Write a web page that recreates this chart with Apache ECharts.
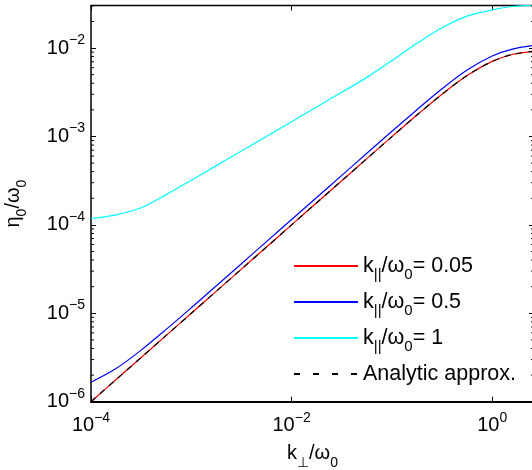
<!DOCTYPE html>
<html><head><meta charset="utf-8">
<script src="https://cdn.jsdelivr.net/npm/echarts@6/dist/echarts.min.js"></script>
<style>html,body{margin:0;padding:0;background:#fff}#c{width:532px;height:470px}</style>
</head><body><div id="c"></div>
<script>
// k_perp / omega_0 sample points
const kPerp = [1e-4, 1.778e-4, 3.162e-4, 5.623e-4, 1e-3, 1.778e-3, 3.162e-3, 5.623e-3,
  1e-2, 1.778e-2, 3.162e-2, 5.623e-2, 0.1, 0.1778, 0.3162, 0.5623, 1, 1.585, 2.57];
// eta_0 / omega_0 for k_par/omega_0 = 0.05
const eta005 = [1.0e-6, 1.78e-6, 3.16e-6, 5.62e-6, 1.0e-5, 1.78e-5, 3.16e-5, 5.62e-5,
  1.0e-4, 1.78e-4, 3.16e-4, 5.61e-4, 9.95e-4, 1.75e-3, 3.01e-3, 4.90e-3, 7.07e-3, 8.46e-3, 9.2e-3];
// k_par/omega_0 = 0.5
const eta05 = [1.66e-6, 2.37e-6, 3.83e-6, 6.58e-6, 1.156e-5, 2.05e-5, 3.64e-5, 6.47e-5,
  1.15e-4, 2.04e-4, 3.63e-4, 6.45e-4, 1.144e-3, 2.01e-3, 3.46e-3, 5.64e-3, 8.13e-3, 9.73e-3, 1.07e-2];
// k_par/omega_0 = 1
const eta1 = [1.18e-4, 1.30e-4, 1.56e-4, 2.20e-4, 3.20e-4, 4.68e-4, 6.86e-4, 1.00e-3,
  1.47e-3, 2.16e-3, 3.16e-3, 4.66e-3, 7.2e-3, 1.13e-2, 1.70e-2, 2.30e-2, 2.70e-2, 2.95e-2, 3.05e-2];
// analytic approximation
const etaAnalytic = [1.0e-6, 1.78e-6, 3.16e-6, 5.62e-6, 1.0e-5, 1.78e-5, 3.16e-5, 5.62e-5,
  1.0e-4, 1.78e-4, 3.16e-4, 5.61e-4, 9.95e-4, 1.75e-3, 3.01e-3, 4.90e-3, 7.07e-3, 8.46e-3, 9.2e-3];

const xTickExps = [-4, -2, 0];
const yTickExps = [-6, -5, -4, -3, -2];
const seriesNames = ['k005', 'k05', 'k1', 'analytic'];
const legendLabels = {
  k005: '{n|k}{sub|||}{n|/ω}{sub|0}{n|= 0.05}',
  k05: '{n|k}{sub|||}{n|/ω}{sub|0}{n|= 0.5}',
  k1: '{n|k}{sub|||}{n|/ω}{sub|0}{n|= 1}',
  analytic: '{n|Analytic approx.}{sub| }'
};
const xName = '{n|k}{sub|⊥}{n|/ω}{sub|0}';
const yName = '{n|η}{sub|0}{n|/ω}{sub|0}';

const FONT = '"Liberation Sans", Arial, Helvetica, sans-serif';
const X_MIN = 1e-4, X_MAX = 2.61, Y_MIN = 1e-6, Y_MAX = 0.0303;

function pairs(ys) { return kPerp.map((k, i) => [k, ys[i]]); }
function expLabel(v, list) {
  const e = Math.log10(v), r = Math.round(e);
  if (Math.abs(e - r) > 1e-6 || list.indexOf(r) < 0) return '';
  return '{n|10}{sup|' + (r < 0 ? '\u2212' : '') + Math.abs(r) + '}';
}
const minorY = [];
for (let e = -6; e <= -2; e++) for (let m = 2; m <= 9; m++) {
  const v = m * Math.pow(10, e); if (v < Y_MAX) minorY.push([X_MIN, v]);
}

const richAxis = {
  n: {fontSize: 20, fontFamily: FONT, color: '#000', verticalAlign: 'middle'},
  sup: {fontSize: 14, fontFamily: FONT, color: '#000', verticalAlign: 'middle', padding: [0, 0, 16, 0]},
  sub: {fontSize: 14, fontFamily: FONT, color: '#000', verticalAlign: 'middle', padding: [18, 0, 0, 0]}
};
const richLegend = {
  n: {fontSize: 21.5, fontFamily: FONT, color: '#000', verticalAlign: 'middle'},
  sub: {fontSize: 15, fontFamily: FONT, color: '#000', verticalAlign: 'middle', padding: [18, 0, 0, 0]}
};

const chart = echarts.init(document.getElementById('c'), null, {renderer: 'canvas'});
const lineW = 1.2;
chart.setOption({
  animation: false,
  backgroundColor: '#fff',
  grid: {left: 91, right: -2, top: 5.5, bottom: 68.3, containLabel: false, outerBoundsMode: 'none'},
  xAxis: [{
    type: 'log', logBase: 100, min: X_MIN, max: X_MAX, position: 'bottom',
    axisLine: {show: true, onZero: false, lineStyle: {color: '#000', width: 2}},
    axisTick: {show: true, inside: true, length: 5, lineStyle: {color: '#000', width: 1}},
    axisLabel: {show: true, margin: 9, showMinLabel: true, formatter: v => expLabel(v, xTickExps), rich: richAxis},
    splitLine: {show: false}, minorTick: {show: false},
    name: xName, nameLocation: 'middle', nameGap: 36, nameTextStyle: {rich: richAxis}
  }, {
    type: 'log', logBase: 100, min: X_MIN, max: X_MAX, position: 'top',
    axisLine: {show: true, onZero: false, lineStyle: {color: '#000', width: 1.3}},
    axisTick: {show: true, inside: true, length: 5, lineStyle: {color: '#000', width: 1}},
    axisLabel: {show: false}, splitLine: {show: false}
  }],
  yAxis: [{
    type: 'log', logBase: 10, min: Y_MIN, max: Y_MAX, position: 'left',
    axisLine: {show: true, onZero: false, lineStyle: {color: '#000', width: 1.5}},
    axisTick: {show: true, inside: true, length: 5, lineStyle: {color: '#000', width: 1}},
    axisLabel: {show: true, margin: 6, showMinLabel: true, formatter: v => expLabel(v, yTickExps), rich: richAxis},
    splitLine: {show: false},
    name: yName, nameLocation: 'middle', nameRotate: 90, nameGap: 62, nameTextStyle: {rich: richAxis}
  }, {
    type: 'log', logBase: 10, min: Y_MIN, max: Y_MAX, position: 'right',
    axisLine: {show: true, onZero: false, lineStyle: {color: '#000', width: 1.3}},
    axisTick: {show: true, inside: true, length: 5, lineStyle: {color: '#000', width: 1}},
    axisLabel: {show: false}, splitLine: {show: false}
  }],
  legend: {
    orient: 'vertical', left: 293, top: 255, padding: 0, itemGap: 8.5,
    itemWidth: 64, itemHeight: 2,
    data: [
      {name: 'k005'}, {name: 'k05'}, {name: 'k1'},
      {name: 'analytic', lineStyle: {type: [6, 13]}}
    ],
    formatter: name => legendLabels[name],
    textStyle: {rich: richLegend},
    itemStyle: {opacity: 0, borderWidth: 0},
    inactiveColor: '#ccc'
  },
  series: [
    {name: 'k005', type: 'line', data: pairs(eta005), symbol: 'none', smooth: 0.3, color: '#ff0000',
      lineStyle: {color: '#ff0000', width: lineW}, z: 3},
    {name: 'k05', type: 'line', data: pairs(eta05), symbol: 'none', smooth: 0.3, color: '#0000ff',
      lineStyle: {color: '#0000ff', width: lineW}, z: 3},
    {name: 'k1', type: 'line', data: pairs(eta1), symbol: 'none', smooth: 0.3, color: '#00ffff',
      lineStyle: {color: '#00ffff', width: lineW}, z: 3},
    {name: 'analytic', type: 'line', data: pairs(etaAnalytic), symbol: 'none', smooth: 0.3, color: '#000',
      lineStyle: {color: '#000', width: lineW, type: [6, 6]}, z: 4},
    {name: 'minorTicks', type: 'custom', data: minorY, silent: true, clip: false, z: 5,
      renderItem: (params, api) => {
        const v = api.value(1);
        const pl = api.coord([X_MIN, v]);
        const pr = api.coord([X_MAX, v]);
        return {type: 'group', children: [
          {type: 'line', shape: {x1: pl[0], y1: pl[1], x2: pl[0] + 3, y2: pl[1]}, style: {stroke: '#000', lineWidth: 1}},
          {type: 'line', shape: {x1: pr[0], y1: pr[1], x2: pr[0] - 3, y2: pr[1]}, style: {stroke: '#000', lineWidth: 1}}
        ]};
      }}
  ]
});
</script>
</body></html>
